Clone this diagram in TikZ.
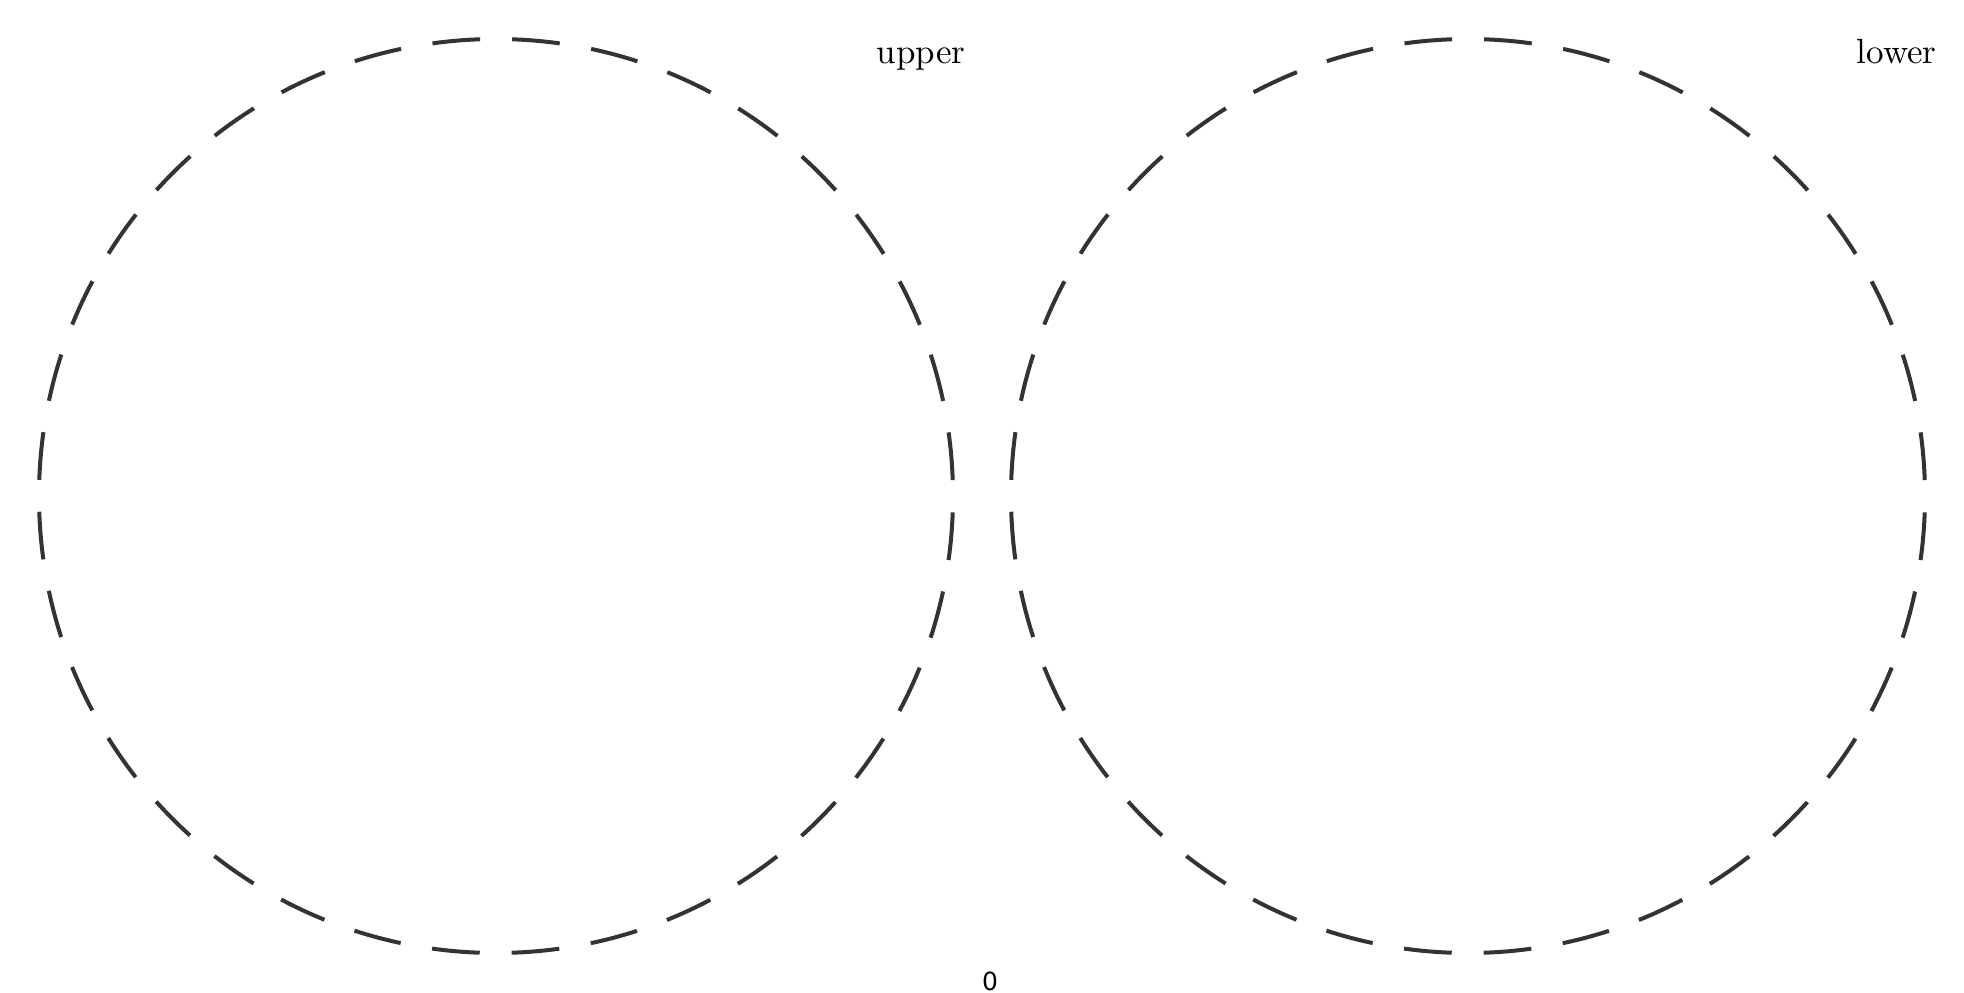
\documentclass[tikz,border=0pt]{standalone}
\usepackage{fontspec}
\newfontfamily\tickfont{DejaVu Sans}
\newfontfamily\lmten{lmroman10-regular.otf}
\definecolor{ringgray}{HTML}{333333}
\begin{document}
\begin{tikzpicture}[x=0.5pt,y=-0.5pt,
  ring/.style={circle,draw=ringgray,line width=2pt,minimum size=457pt,inner sep=0pt,outer sep=0pt,
    dash pattern=on 23.93pt off 15.95pt,dash phase=31.9pt},
  setlabel/.style={anchor=base east,inner sep=0pt,font=\lmten\fontsize{17.5}{21}\selectfont},
  ticklabel/.style={anchor=base,inner sep=0pt,font=\tickfont\fontsize{12.5}{15}\selectfont}]
\useasboundingbox (0,0) rectangle (1964,992);
\node[ring] (upperring) at (496,496) {};
\node[ring] (lowerring) at (1468,496) {};
\node[setlabel] (upperlabel) at (966,63) {upper};
\node[setlabel] (lowerlabel) at (1937,63) {lower};
\node[ticklabel] (zerolabel) at (990,990) {0};
\end{tikzpicture}
\end{document}
